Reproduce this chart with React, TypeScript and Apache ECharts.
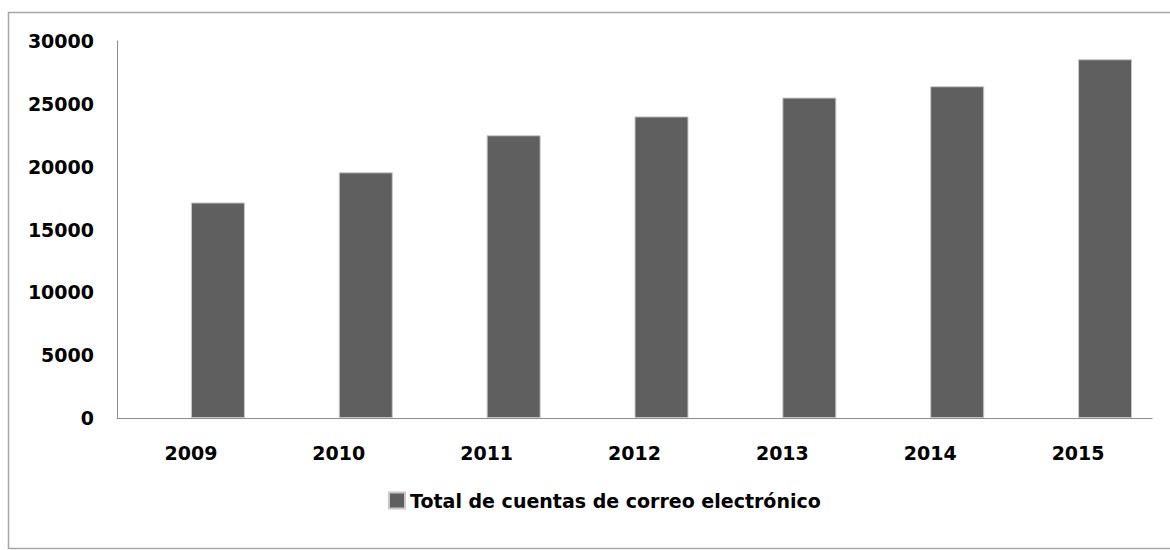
import React, { useEffect, useRef } from "react";
import * as echarts from "echarts";

const years = ["2009", "2010", "2011", "2012", "2013", "2014", "2015"];
const emptySeries = [null, null, null, null, null, null, null];
const totalAccounts = [17150, 19550, 22500, 24000, 25500, 26400, 28550];
const seriesName = "Total de cuentas de correo electrónico";
const yTicks = { min: 0, max: 30000, interval: 5000 };

export default function App() {
  const ref = useRef<HTMLDivElement>(null);
  useEffect(() => {
    if (!ref.current) return;
    const chart = echarts.init(ref.current, undefined, { renderer: "svg" });
    const font = "'DejaVu Sans', sans-serif";
    chart.setOption({
      animation: false,
      backgroundColor: "#ffffff",
      graphic: [
        {
          type: "rect",
          shape: { x: 8.5, y: 12.5, width: 1180, height: 536 },
          style: { fill: "none", stroke: "#a6a6a6", lineWidth: 1.5 },
          silent: true,
        },
      ],
      grid: { left: 117, right: 18, top: 41, bottom: 132, containLabel: false },
      legend: {
        data: [seriesName],
        left: 383,
        top: 486,
        itemWidth: 16,
        itemHeight: 16,
        itemGap: 4,
        icon: "rect",
        textStyle: { fontFamily: font, fontSize: 19, color: "#000", fontWeight: "bold" },
      },
      xAxis: {
        type: "category",
        data: years,
        axisLine: { lineStyle: { color: "#8c8c8c", width: 1 } },
        axisTick: { show: false },
        axisLabel: { fontFamily: font, fontSize: 19, color: "#000", margin: 25, fontWeight: "bold" },
      },
      yAxis: {
        type: "value",
        min: yTicks.min,
        max: yTicks.max,
        interval: yTicks.interval,
        axisLine: { show: true, lineStyle: { color: "#8c8c8c", width: 1 } },
        axisTick: { show: false },
        splitLine: { show: false },
        axisLabel: {
          fontFamily: font,
          fontSize: 19,
          color: "#000",
          margin: 23,
          fontWeight: "bold",
          formatter: (v: number) => String(v),
        },
      },
      series: [
        {
          name: "empty",
          type: "bar",
          data: emptySeries,
          barWidth: 54,
          barGap: "0%",
          itemStyle: { color: "#5f5f5f" },
        },
        {
          name: seriesName,
          type: "bar",
          data: totalAccounts,
          barWidth: 54,
          barGap: "0%",
          itemStyle: { color: "#5f5f5f", borderColor: "#c8c8c8", borderWidth: 1 },
        },
      ],
    });
    return () => chart.dispose();
  }, []);
  return (
    <div
      ref={ref}
      style={{ position: "fixed", left: 0, top: 0, width: 1170, height: 550 }}
    />
  );
}
